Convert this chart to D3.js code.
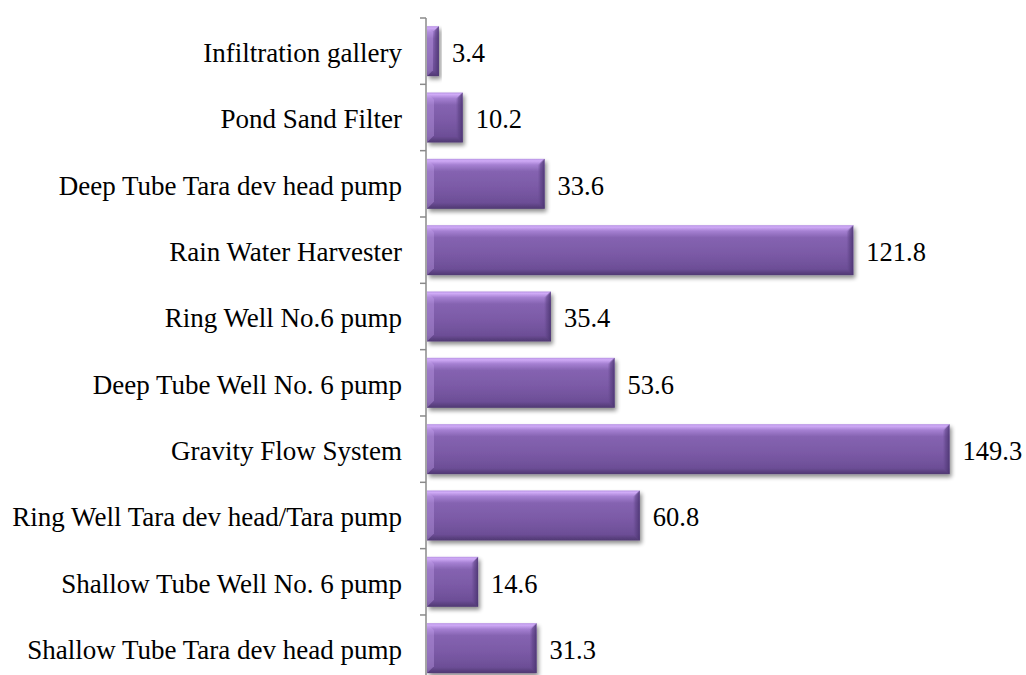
<!DOCTYPE html>
<html>
<head>
<meta charset="utf-8">
<script src="https://cdn.jsdelivr.net/npm/d3@7"></script>
<style>
  html, body { margin: 0; padding: 0; background: #fff; }
  svg { display: block; }
</style>
</head>
<body>
<svg id="chart" width="1026" height="675"></svg>
<script>
const categories = [
  "Infiltration gallery",
  "Pond Sand Filter",
  "Deep Tube Tara dev head pump",
  "Rain Water Harvester",
  "Ring Well No.6 pump",
  "Deep Tube Well No. 6 pump",
  "Gravity Flow System",
  "Ring Well Tara dev head/Tara pump",
  "Shallow Tube Well No. 6 pump",
  "Shallow Tube Tara dev head pump"
];
const values = [3.4, 10.2, 33.6, 121.8, 35.4, 53.6, 149.3, 60.8, 14.6, 31.3];
const valueLabels = ["3.4", "10.2", "33.6", "121.8", "35.4", "53.6", "149.3", "60.8", "14.6", "31.3"];

(function () {
const FONT = '"Liberation Serif"';
const svg = d3.select("#chart");
const axisX = 426;
const x = d3.scaleLinear().domain([0, 160]).range([axisX + 1, axisX + 1 + 560]);
const y = d3.scaleBand().domain(categories).range([18, 681.3]).paddingInner(0.246).paddingOuter(0.123);

const defs = svg.append("defs");
const grad = defs.append("linearGradient").attr("id", "barGrad")
  .attr("x1", 0).attr("y1", 0).attr("x2", 0).attr("y2", 1);
[[0, "#b894e4"], [0.04, "#cfaaf6"], [0.12, "#a580d2"], [0.25, "#8563b1"],
 [0.6, "#7a59a5"], [0.88, "#6c4e96"], [0.94, "#5d4283"], [1, "#4f3872"]]
  .forEach(([o, c]) => grad.append("stop").attr("offset", o).attr("stop-color", c));

const rgrad = defs.append("linearGradient").attr("id", "rightGrad")
  .attr("x1", 0).attr("y1", 0).attr("x2", 1).attr("y2", 0);
[[0, "#6a4d94", 0.0], [0.4, "#5e4386", 0.6], [1, "#4a3470", 0.9]]
  .forEach(([o, c, a]) => rgrad.append("stop").attr("offset", o).attr("stop-color", c).attr("stop-opacity", a));

const f = defs.append("filter").attr("id", "shadow")
  .attr("x", "-10%").attr("y", "-20%").attr("width", "130%").attr("height", "160%");
f.append("feGaussianBlur").attr("in", "SourceAlpha").attr("stdDeviation", 2.2).attr("result", "b");
f.append("feOffset").attr("in", "b").attr("dx", 2).attr("dy", 3).attr("result", "o");
f.append("feComponentTransfer").attr("in", "o").attr("result", "s")
  .append("feFuncA").attr("type", "linear").attr("slope", 0.45);
const m = f.append("feMerge");
m.append("feMergeNode").attr("in", "s");
m.append("feMergeNode").attr("in", "SourceGraphic");

const bars = svg.append("g").selectAll("g").data(categories).join("g");
const bw = y.bandwidth();
const bev = 7;

bars.append("rect")
  .attr("x", x(0))
  .attr("y", d => y(d))
  .attr("width", (d, i) => x(values[i]) - x(0))
  .attr("height", bw)
  .attr("fill", "url(#barGrad)")
  .attr("filter", "url(#shadow)");

bars.append("path")
  .attr("fill", "url(#rightGrad)")
  .attr("d", (d, i) => {
    const x1 = x(values[i]);
    const b = Math.min(bev, (x1 - x(0)) / 2);
    const y0 = y(d), y1 = y(d) + bw;
    return `M${x1},${y0}L${x1},${y1}L${x1 - b},${y1 - b}L${x1 - b},${y0 + b}Z`;
  });
bars.append("path")
  .attr("fill", "none").attr("stroke", "#9b7ac6").attr("stroke-width", 1).attr("opacity", 0.8)
  .attr("d", (d, i) => {
    const x1 = x(values[i]);
    const b = Math.min(bev, (x1 - x(0)) / 2);
    const y0 = y(d);
    return `M${x1 - 0.5},${y0 + 0.5}L${x1 - b},${y0 + b}`;
  });
bars.append("path")
  .attr("fill", "#c9a6f0").attr("opacity", 0.35)
  .attr("d", (d, i) => {
    const x0 = x(0);
    const b = Math.min(bev, (x(values[i]) - x0) / 2);
    const y0 = y(d), y1 = y(d) + bw;
    return `M${x0},${y0}L${x0 + b},${y0 + b}L${x0 + b},${y1 - b}L${x0},${y1}Z`;
  });

svg.append("g").selectAll("text").data(categories).join("text")
  .attr("x", (d, i) => x(values[i]) + 13)
  .attr("y", d => y(d) + bw / 2 + 11)
  .style("font-family", FONT)
  .style("font-size", "26.5px")
  .attr("fill", "#000")
  .text((d, i) => valueLabels[i]);

svg.append("g").selectAll("text").data(categories).join("text")
  .attr("x", axisX - 24)
  .attr("y", d => y(d) + bw / 2 + 11)
  .attr("text-anchor", "end")
  .style("font-family", FONT)
  .style("font-size", "27px")
  .attr("fill", "#000")
  .text(d => d);

const ax = svg.append("g").attr("stroke", "#8a8a8a").attr("stroke-width", 1.5).attr("fill", "none");
const yTop = y.range()[0], yBottom = y.range()[1];
ax.append("line").attr("x1", axisX).attr("x2", axisX).attr("y1", yTop).attr("y2", yBottom);
const boundaries = categories.map(c => y(c) - y.step() * y.paddingInner() / 2).concat([yBottom]);
ax.selectAll("line.t").data(boundaries).join("line").attr("class", "t")
  .attr("x1", axisX - 6).attr("x2", axisX).attr("y1", d => d).attr("y2", d => d);
})();
</script>
</body>
</html>
